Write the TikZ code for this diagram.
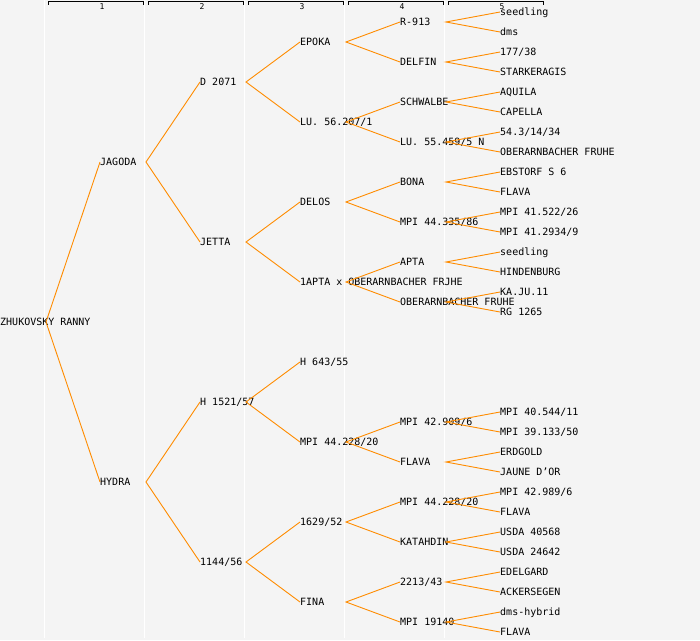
\documentclass[tikz,border=0pt]{standalone}
\usepackage{fontspec}
\setmonofont{DejaVu Sans Mono}
\definecolor{panelgray}{RGB}{244,244,244}
\definecolor{crossorange}{RGB}{255,140,0}
\tikzset{
	plant/.style={anchor=west, inner sep=0pt, text height=8pt, text depth=1pt, font=\fontsize{10}{12}\ttfamily},
	cross/.style={crossorange, line width=0.9pt},
	sepline/.style={white, line width=1.2pt},
	bracket/.style={black, line width=0.9pt},
	genlabel/.style={inner sep=0pt, font=\fontsize{8}{9}\ttfamily}
}
\begin{document}
\begin{tikzpicture}[x=1pt,y=-1pt]
	\fill[panelgray] (0,0) rectangle (700,640);
	\useasboundingbox (0,0) rectangle (700,640);
	% generation columns
	\foreach \k in {1,...,5} {
		\draw[sepline] (100*\k-55.5,0) -- (100*\k-55.5,638);
		\draw[bracket] (100*\k-52,4.5) -- (100*\k-52,1.5) -- (100*\k+43,1.5) -- (100*\k+43,4.5);
		\node[genlabel] (g\k) at (100*\k+2,7) {\k};
		\coordinate (s\k) at (100*\k-54,0);
	}
	% generation 0 to 3
	\node[plant] (z) at (0,322) {ZHUKOVSKY RANNY};
	\node[plant] (zm) at (100,162) {JAGODA};
	\node[plant] (zf) at (100,482) {HYDRA};
	\node[plant] (zmm) at (200,82) {D 2071};
	\node[plant] (zmf) at (200,242) {JETTA};
	\node[plant] (zfm) at (200,402) {H 1521/57};
	\node[plant] (zff) at (200,562) {1144/56};
	\node[plant] (zmmm) at (300,42) {EPOKA};
	\node[plant] (zmmf) at (300,122) {LU. 56.207/1};
	\node[plant] (zmfm) at (300,202) {DELOS};
	\node[plant] (zmff) at (300,282) {1APTA x OBERARNBACHER FRJHE};
	\node[plant] (zfmm) at (300,362) {H 643/55};
	\node[plant] (zfmf) at (300,442) {MPI 44.228/20};
	\node[plant] (zffm) at (300,522) {1629/52};
	\node[plant] (zfff) at (300,602) {FINA};
	% generation 4
	\node[plant] (zmmmm) at (400,22) {R-913};
	\node[plant] (zmmmf) at (400,62) {DELFIN};
	\node[plant] (zmmfm) at (400,102) {SCHWALBE};
	\node[plant] (zmmff) at (400,142) {LU. 55.459/5 N};
	\node[plant] (zmfmm) at (400,182) {BONA};
	\node[plant] (zmfmf) at (400,222) {MPI 44.335/86};
	\node[plant] (zmffm) at (400,262) {APTA};
	\node[plant] (zmfff) at (400,302) {OBERARNBACHER FRUHE};
	\node[plant] (zfmfm) at (400,422) {MPI 42.909/6};
	\node[plant] (zfmff) at (400,462) {FLAVA};
	\node[plant] (zffmm) at (400,502) {MPI 44.228/20};
	\node[plant] (zffmf) at (400,542) {KATAHDIN};
	\node[plant] (zfffm) at (400,582) {2213/43};
	\node[plant] (zffff) at (400,622) {MPI 19140};
	% generation 5
	\node[plant] (zmmmmm) at (500,12) {seedling};
	\node[plant] (zmmmmf) at (500,32) {dms};
	\node[plant] (zmmmfm) at (500,52) {177/38};
	\node[plant] (zmmmff) at (500,72) {STARKERAGIS};
	\node[plant] (zmmfmm) at (500,92) {AQUILA};
	\node[plant] (zmmfmf) at (500,112) {CAPELLA};
	\node[plant] (zmmffm) at (500,132) {54.3/14/34};
	\node[plant] (zmmfff) at (500,152) {OBERARNBACHER FRUHE};
	\node[plant] (zmfmmm) at (500,172) {EBSTORF S 6};
	\node[plant] (zmfmmf) at (500,192) {FLAVA};
	\node[plant] (zmfmfm) at (500,212) {MPI 41.522/26};
	\node[plant] (zmfmff) at (500,232) {MPI 41.2934/9};
	\node[plant] (zmffmm) at (500,252) {seedling};
	\node[plant] (zmffmf) at (500,272) {HINDENBURG};
	\node[plant] (zmfffm) at (500,292) {KA.JU.11};
	\node[plant] (zmffff) at (500,312) {RG 1265};
	\node[plant] (zfmfmm) at (500,412) {MPI 40.544/11};
	\node[plant] (zfmfmf) at (500,432) {MPI 39.133/50};
	\node[plant] (zfmffm) at (500,452) {ERDGOLD};
	\node[plant] (zfmfff) at (500,472) {JAUNE D’OR};
	\node[plant] (zffmmm) at (500,492) {MPI 42.989/6};
	\node[plant] (zffmmf) at (500,512) {FLAVA};
	\node[plant] (zffmfm) at (500,532) {USDA 40568};
	\node[plant] (zffmff) at (500,552) {USDA 24642};
	\node[plant] (zfffmm) at (500,572) {EDELGARD};
	\node[plant] (zfffmf) at (500,592) {ACKERSEGEN};
	\node[plant] (zffffm) at (500,612) {dms-hybrid};
	\node[plant] (zfffff) at (500,632) {FLAVA};
	% parentage lines
	\foreach \s/\p in {1/z, 2/zm, 2/zf, 3/zmm, 3/zmf, 3/zfm, 3/zff,
		4/zmmm, 4/zmmf, 4/zmfm, 4/zmff, 4/zfmf, 4/zffm, 4/zfff,
		5/zmmmm, 5/zmmmf, 5/zmmfm, 5/zmmff, 5/zmfmm, 5/zmfmf, 5/zmffm,
		5/zmfff, 5/zfmfm, 5/zfmff, 5/zffmm, 5/zffmf, 5/zfffm, 5/zffff}
		\draw[cross] (\p m.west) -- (\p.west -| s\s) -- (\p f.west);
\end{tikzpicture}
\end{document}
